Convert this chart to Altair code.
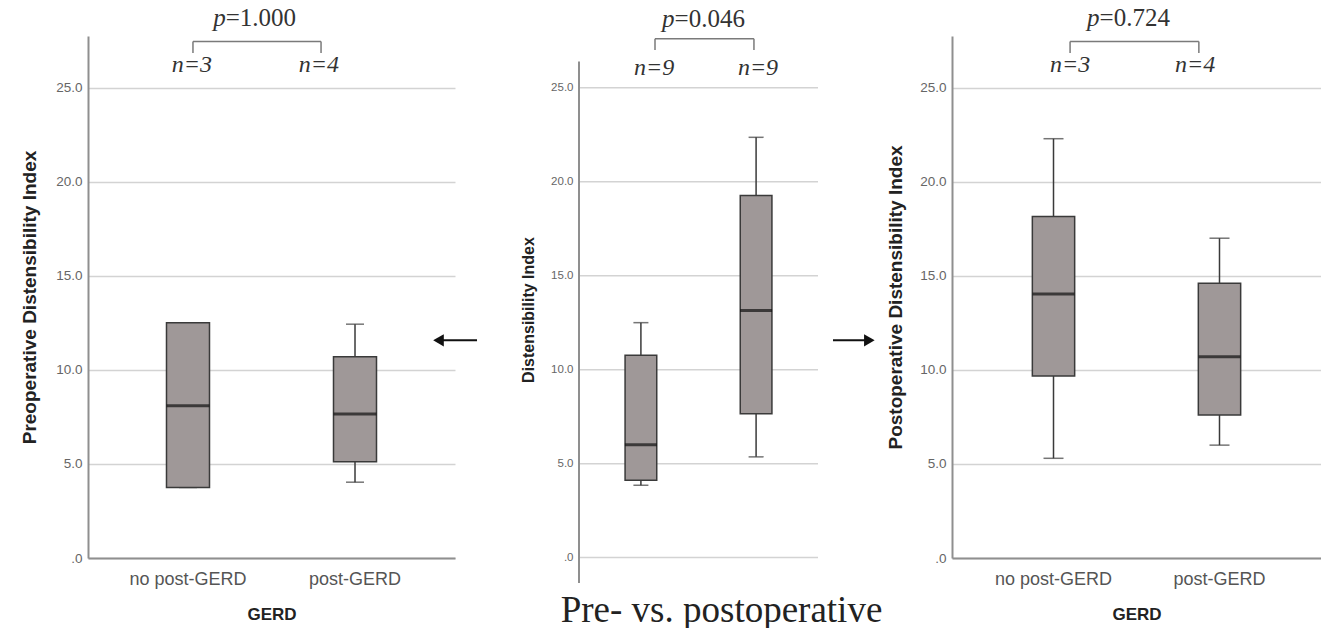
import altair as alt
import pandas as pd

# ---------------- data ----------------
GROUPS = ["no post-GERD", "post-GERD"]
PERIODS = ["Preoperative", "Postoperative"]

pre_lower = [3.75, 4.03]
pre_q1 = [3.75, 5.12]
pre_median = [8.10, 7.66]
pre_q3 = [12.50, 10.70]
pre_upper = [12.50, 12.43]

mid_lower = [3.85, 5.36]
mid_q1 = [4.11, 7.66]
mid_median = [6.01, 13.15]
mid_q3 = [10.76, 19.26]
mid_upper = [12.50, 22.36]

post_lower = [5.30, 6.00]
post_q1 = [9.68, 7.60]
post_median = [14.04, 10.70]
post_q3 = [18.15, 14.60]
post_upper = [22.29, 17.00]

p_values = ["1.000", "0.046", "0.724"]
n_pre = [3, 4]
n_mid = [9, 9]
n_post = [3, 4]

Y_TICKS = [0, 5, 10, 15, 20, 25]

# ---------------- layout / style constants ----------------
SERIF = "Liberation Serif"
SANS = "Liberation Sans"
PX_PER_UNIT = 18.8
Y_TOP = 27.75
MID_Y_MIN = -1.35
MID_AXIS_TOP = 26.4
MID_PLOT_W = 239
BOX_FILL = "#9f9898"
BOX_STROKE = "#3a3a3a"
GRID = "#d3d3d3"
DOMAIN = "#8f8f8f"

ANN_PRE = dict(n_x=[0.283, 0.629], br_x=[0.286, 0.635], p_split=0.375,
               p_y=28.7, br_top=27.46, br_bot=26.84, n_y=26.2)
ANN_MID = dict(n_x=[0.314, 0.749], br_x=[0.318, 0.732], p_split=0.40,
               p_y=28.65, br_top=27.6, br_bot=27.0, n_y=26.05)
ANN_POST = dict(n_x=[0.320, 0.659], br_x=[0.320, 0.669], p_split=0.40,
                p_y=28.7, br_top=27.46, br_bot=26.84, n_y=26.2)

ARROW_LEFT = dict(tip=0.955, tail=1.06, y=11.57, shape="triangle-left")
ARROW_RIGHT = dict(tip=-0.224, tail=-0.3225, y=11.57, shape="triangle-right")


def panel(groups, lower, q1, med, q3, upper, ns, p, ann, *, width, y_min,
          bar_w, cap_w, pad_in, pad_out, ytitle, ytitle_size, ytitle_pad,
          label_size, mid=False, arrow=None, plot_w=None):
    height = round((Y_TOP - y_min) * PX_PER_UNIT)
    plot_w = plot_w or width
    df = pd.DataFrame({"group": groups, "lower": lower, "q1": q1,
                       "median": med, "q3": q3, "upper": upper})

    yscale = alt.Scale(domain=[y_min, Y_TOP], nice=False, zero=False)
    yaxis = alt.Axis(values=Y_TICKS,
                     labelExpr="datum.value == 0 ? '.0' : format(datum.value, '.1f')",
                     labelFont=SANS, labelFontSize=label_size, labelColor="#666666",
                     labelPadding=6, ticks=False, tickSize=0,
                     grid=not mid, gridColor=GRID, gridWidth=1.5,
                     domain=not mid, domainColor=DOMAIN, domainWidth=2,
                     titleFont=SANS, titleFontSize=ytitle_size, titleFontWeight="bold",
                     titleColor="#222222", titlePadding=ytitle_pad, zindex=0)

    def Y(field):
        return alt.Y(field, scale=yscale, axis=yaxis, title=ytitle)

    if mid:
        xaxis = alt.Axis(labels=False, ticks=False, tickSize=0, domain=False,
                         title="Pre- vs. postoperative", titleFont=SERIF,
                         titleFontSize=37, titleFontWeight="normal", titleColor="#222222",
                         titleX=142, titleY=38, titleBaseline="alphabetic")
        xtitle = "Pre- vs. postoperative"
        xscale = alt.Scale(paddingInner=pad_in, paddingOuter=pad_out, range=[0, plot_w])
    else:
        xaxis = alt.Axis(labelFont=SANS, labelFontSize=18, labelColor="#555555",
                         labelAngle=0, labelPadding=21.5, labelBaseline="middle",
                         ticks=False, tickSize=0, domain=True, domainColor=DOMAIN,
                         domainWidth=2, title="GERD", titleFont=SANS, titleFontSize=17,
                         titleFontWeight="bold", titleColor="#222222",
                         titleY=56.5, titleBaseline="middle")
        xtitle = "GERD"
        xscale = alt.Scale(paddingInner=pad_in, paddingOuter=pad_out)

    X = alt.X("group:N", sort=groups, title=xtitle, axis=xaxis, scale=xscale)

    base = alt.Chart(df)
    box_layers = []
    if mid:
        grid_df = pd.DataFrame({"tick": Y_TICKS})
        box_layers.append(alt.Chart(grid_df).mark_rule(color=GRID, strokeWidth=1.5).encode(
            x=alt.value(0), x2=alt.value(plot_w), y=Y("tick:Q")))
        axis_df = pd.DataFrame({"ay": [y_min], "ay2": [MID_AXIS_TOP]})
        box_layers.append(alt.Chart(axis_df).mark_rule(color=DOMAIN, strokeWidth=2).encode(
            x=alt.value(0), y=Y("ay:Q"), y2="ay2:Q"))
    box_layers += [
        base.mark_rule(color=BOX_STROKE, strokeWidth=1.5).encode(
            x=X, y=Y("lower:Q"), y2="upper:Q"),
        base.mark_tick(color=BOX_STROKE, thickness=1.5, size=cap_w).encode(
            x=X, y=Y("lower:Q")),
        base.mark_tick(color=BOX_STROKE, thickness=1.5, size=cap_w).encode(
            x=X, y=Y("upper:Q")),
        base.mark_bar(fill=BOX_FILL, stroke=BOX_STROKE, strokeWidth=1.5).encode(
            x=X, y=Y("q1:Q"), y2="q3:Q"),
        base.mark_tick(color="#111111", thickness=3, size=bar_w).encode(
            x=X, y=Y("median:Q")),
    ]
    boxes = alt.layer(*box_layers)

    ax_scale = alt.Scale(domain=[0, 1], nice=False, zero=False, range=[0, plot_w])

    def XA(field):
        return alt.X(field, scale=ax_scale, axis=None)

    ann_layers = []
    n_df = pd.DataFrame({"ax": ann["n_x"], "ay": [ann["n_y"]] * 2,
                         "label": [f"n={n}" for n in ns]})
    ann_layers.append(alt.Chart(n_df).mark_text(
        font=SERIF, fontSize=24, fontStyle="italic", color="#333333",
        baseline="middle").encode(x=XA("ax:Q"), y=Y("ay:Q"), text="label:N"))

    x1, x2 = ann["br_x"]
    br_df = pd.DataFrame({"ax": [x1, x1, x2], "ax2": [x2, x1, x2],
                          "ay": [ann["br_top"], ann["br_bot"], ann["br_bot"]],
                          "ay2": [ann["br_top"]] * 3})
    ann_layers.append(alt.Chart(br_df).mark_rule(color="#7a7a7a", strokeWidth=1.5).encode(
        x=XA("ax:Q"), x2="ax2:Q", y=Y("ay:Q"), y2="ay2:Q"))

    p_df = pd.DataFrame({"ax": [ann["p_split"]], "ay": [ann["p_y"]],
                         "p": ["p"], "val": ["=" + p]})
    ann_layers.append(alt.Chart(p_df).mark_text(
        font=SERIF, fontSize=25, fontStyle="italic", align="right",
        baseline="middle", color="#333333").encode(
        x=XA("ax:Q"), y=Y("ay:Q"), text="p:N"))
    ann_layers.append(alt.Chart(p_df).mark_text(
        font=SERIF, fontSize=25, align="left", baseline="middle",
        color="#333333").encode(x=XA("ax:Q"), y=Y("ay:Q"), text="val:N"))

    if arrow is not None:
        ar_df = pd.DataFrame({"ax": [arrow["tip"]], "ax2": [arrow["tail"]],
                              "ay": [arrow["y"]]})
        ann_layers.append(alt.Chart(ar_df).mark_rule(color="#111111", strokeWidth=2).encode(
            x=XA("ax:Q"), x2="ax2:Q", y=Y("ay:Q")))
        ann_layers.append(alt.Chart(ar_df).mark_point(
            shape=arrow["shape"], filled=True, color="#111111", size=150,
            opacity=1).encode(x=XA("ax:Q"), y=Y("ay:Q")))
    annotations = alt.layer(*ann_layers)

    return alt.layer(boxes, annotations).resolve_scale(x="independent").properties(
        width=width, height=height)


left = panel(GROUPS, pre_lower, pre_q1, pre_median, pre_q3, pre_upper,
             n_pre, p_values[0], ANN_PRE, width=367, y_min=0, bar_w=43, cap_w=18,
             pad_in=0.7425, pad_out=0.47, ytitle="Preoperative Distensibility Index",
             ytitle_size=19, ytitle_pad=16, label_size=13.5, arrow=ARROW_LEFT)

middle = panel(PERIODS, mid_lower, mid_q1, mid_median, mid_q3, mid_upper,
               n_mid, p_values[1], ANN_MID, width=MID_PLOT_W + 10, plot_w=MID_PLOT_W,
               y_min=MID_Y_MIN, bar_w=32, cap_w=15, pad_in=0.725, pad_out=0.4,
               ytitle="Distensibility Index", ytitle_size=16, ytitle_pad=14,
               label_size=11.5, mid=True)

right = panel(GROUPS, post_lower, post_q1, post_median, post_q3, post_upper,
              n_post, p_values[2], ANN_POST, width=369, y_min=0, bar_w=42, cap_w=20,
              pad_in=0.745, pad_out=0.484, ytitle="Postoperative Distensibility Index",
              ytitle_size=19, ytitle_pad=14, label_size=13.5, arrow=ARROW_RIGHT)

chart = alt.hconcat(left, middle, right, spacing=124, bounds="flush").properties(
    padding={"left": 12, "top": -2, "right": 0, "bottom": 0},
    background="white",
).configure_view(stroke=None)

chart.save("out.html", embed_options={"renderer": "svg", "actions": False})
